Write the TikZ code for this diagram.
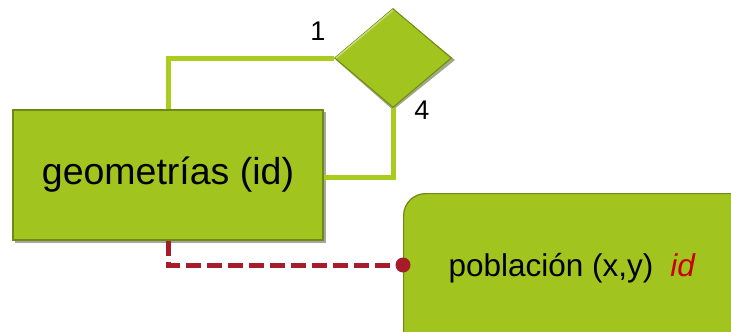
\documentclass[tikz,border=0pt]{standalone}
\usepackage{fontspec}
\setmainfont{Liberation Sans}
\usetikzlibrary{shapes.geometric}
\definecolor{boxgreen}{RGB}{162,196,30}
\definecolor{linegreen}{RGB}{170,204,30}
\definecolor{edgedark}{RGB}{110,138,18}
\definecolor{darkred}{RGB}{166,28,43}
\definecolor{idred}{RGB}{200,0,0}
\tikzset{
  entbox/.style={draw=edgedark, line width=1.2pt, fill=boxgreen, rectangle, inner sep=0pt},
  relshape/.style={draw=edgedark, line width=1pt, fill=boxgreen, diamond, inner sep=0pt, aspect=1.18},
  greenline/.style={draw=linegreen, line width=5pt},
  redline/.style={draw=darkred, line width=5pt, dash pattern=on 15pt off 6pt},
  card/.style={font=\fontsize{27}{29}\selectfont, text=black},
}
\begin{document}
\begin{tikzpicture}[x=1pt,y=-1pt]
\useasboundingbox (0,0) rectangle (731,332);
\coordinate (c1) at (168,58);
\coordinate (c2) at (393,177);
\coordinate (c3) at (168,265);
\coordinate (dot) at (403,265);
% relationship diamond with shadow
\fill[edgedark!60!black, opacity=0.5] (336,60) -- (393,9) -- (455,60) -- (393,110) -- cycle;
\node[relshape, minimum width=117pt, minimum height=99pt] (rel) at (393,58) {};
\draw[line width=1.5pt, boxgreen!60!white] (336,58) -- (393,10);
% entity box with shadow
\fill[black, opacity=0.35] (15,112) rectangle (326,243);
\node[entbox, minimum width=310pt, minimum height=130pt] (geo) at (168,175)
  {\fontsize{37.5}{40}\selectfont geometrías (id)};
% green connectors
\draw[greenline] (geo.north -| c1) -- (c1) -- (rel.west);
\draw[greenline] (geo.east |- c2) -- (c2) -- (rel.south);
% poblacion box
\fill[black, opacity=0.35, rounded corners=22pt] (406,196) rectangle (760,360);
\node[draw=edgedark, line width=1.2pt, fill=boxgreen, rounded corners=22pt, minimum width=350pt, minimum height=160pt, inner sep=0pt, anchor=north west] (pob) at (403,193) {};
\node[anchor=west, font=\fontsize{31.5}{34}\selectfont] (pobtxt) at (445,268) {población (x,y)\hspace{17pt}\textcolor{idred}{\itshape id}};
% dashed red connector
\draw[redline] (geo.south -| c3) -- (c3) -- (dot);
\fill[darkred] (dot) circle (7.5pt);
% cardinalities
\node[card] (n1) at (318,31) {1};
\node[card] (n4) at (422,110) {4};
\end{tikzpicture}
\end{document}
